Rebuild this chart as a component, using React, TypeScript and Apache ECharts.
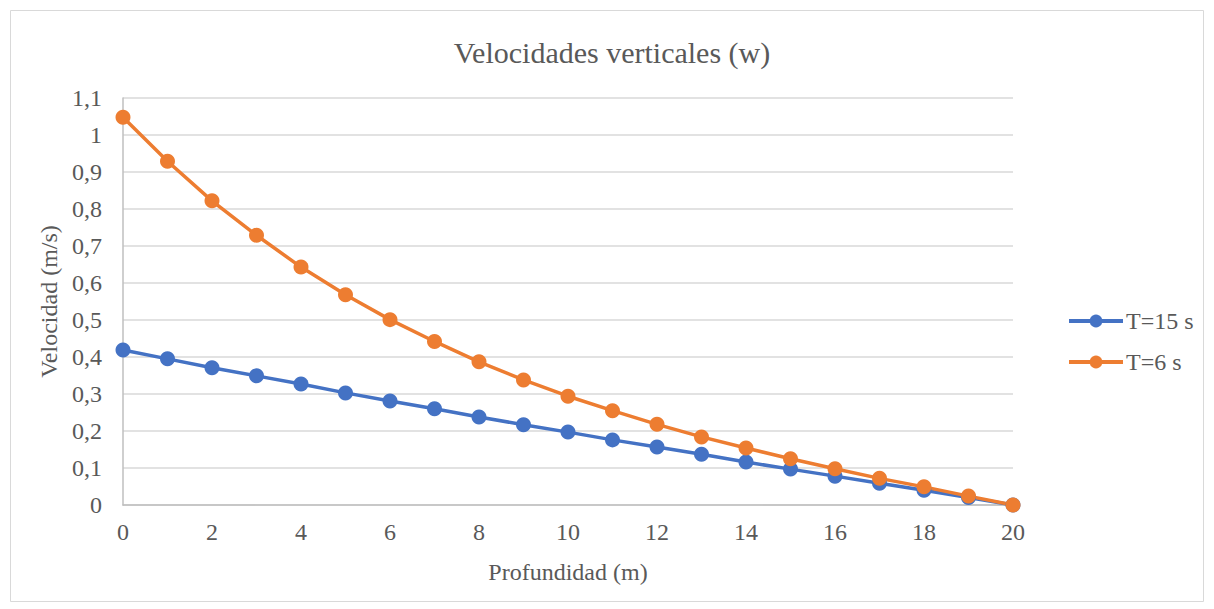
import React, { useEffect, useRef } from "react";
import * as echarts from "echarts";

const depths = [0, 1, 2, 3, 4, 5, 6, 7, 8, 9, 10, 11, 12, 13, 14, 15, 16, 17, 18, 19, 20];
const seriesT15 = [0.419, 0.395, 0.371, 0.349, 0.327, 0.303, 0.281, 0.26, 0.238, 0.217, 0.197, 0.176, 0.157, 0.137, 0.116, 0.097, 0.078, 0.059, 0.04, 0.02, 0];
const seriesT6 = [1.048, 0.929, 0.822, 0.729, 0.643, 0.568, 0.501, 0.442, 0.387, 0.338, 0.294, 0.255, 0.218, 0.184, 0.154, 0.125, 0.098, 0.072, 0.049, 0.024, 0];
const seriesNames = ["T=15 s", "T=6 s"];
const titleText = "Velocidades verticales (w)";
const xName = "Profundidad (m)";
const yName = "Velocidad (m/s)";

export default function App() {
  const ref = useRef<HTMLDivElement>(null);
  useEffect(() => {
    if (!ref.current) return;
    const chart = echarts.init(ref.current, null, { renderer: "svg" });
    const font = "Liberation Serif";
    const textColor = "#595959";
    chart.setOption({
      animation: false,
      backgroundColor: "#ffffff",
      textStyle: { fontFamily: font },
      title: {
        text: titleText,
        left: 607,
        top: 32,
        textAlign: "center",
        textStyle: { fontFamily: font, fontSize: 30, fontWeight: "normal", color: textColor },
      },
      graphic: [
        {
          type: "rect",
          shape: { x: 10.5, y: 10.5, width: 1193, height: 591 },
          style: { fill: "none", stroke: "#D9D9D9", lineWidth: 1 },
          silent: true,
        },
      ],
      legend: {
        orient: "vertical",
        left: 1062,
        top: 304,
        itemWidth: 54,
        itemHeight: 16,
        itemGap: 17,
        lineStyle: { width: 4 },
        textStyle: { fontFamily: font, fontSize: 24, color: textColor, padding: [0, 0, 0, -2] },
        data: seriesNames,
      },
      grid: { left: 123, right: 201, top: 98, bottom: 104, containLabel: false },
      xAxis: {
        type: "value",
        min: 0,
        max: 20,
        interval: 2,
        name: xName,
        nameLocation: "middle",
        nameGap: 55,
        nameTextStyle: { fontFamily: font, fontSize: 24, color: textColor },
        axisLine: { show: true, lineStyle: { color: "#BFBFBF", width: 1.5 } },
        axisTick: { show: false },
        splitLine: { show: false },
        axisLabel: { fontFamily: font, fontSize: 24, color: textColor, margin: 15 },
      },
      yAxis: {
        type: "value",
        min: 0,
        max: 1.1,
        interval: 0.1,
        name: yName,
        nameLocation: "middle",
        nameGap: 59,
        nameTextStyle: { fontFamily: font, fontSize: 24, color: textColor },
        axisLine: { show: true, lineStyle: { color: "#BFBFBF", width: 1.5 } },
        axisTick: { show: false },
        splitLine: { show: true, lineStyle: { color: "#D9D9D9", width: 1.5 } },
        axisLabel: {
          fontFamily: font,
          fontSize: 24,
          color: textColor,
          margin: 21,
          formatter: (v: number) => String(Math.round(v * 10) / 10).replace(".", ","),
        },
      },
      series: [
        {
          name: seriesNames[0],
          type: "line",
          data: depths.map((d, i) => [d, seriesT15[i]]),
          symbol: "circle",
          symbolSize: 15,
          lineStyle: { color: "#4472C4", width: 3.5 },
          itemStyle: { color: "#4472C4" },
        },
        {
          name: seriesNames[1],
          type: "line",
          data: depths.map((d, i) => [d, seriesT6[i]]),
          symbol: "circle",
          symbolSize: 15,
          lineStyle: { color: "#ED7D31", width: 3.5 },
          itemStyle: { color: "#ED7D31" },
        },
      ],
    });
    return () => chart.dispose();
  }, []);
  return (
    <div
      ref={ref}
      style={{ position: "absolute", left: 0, top: 0, width: 1214, height: 609 }}
    />
  );
}
